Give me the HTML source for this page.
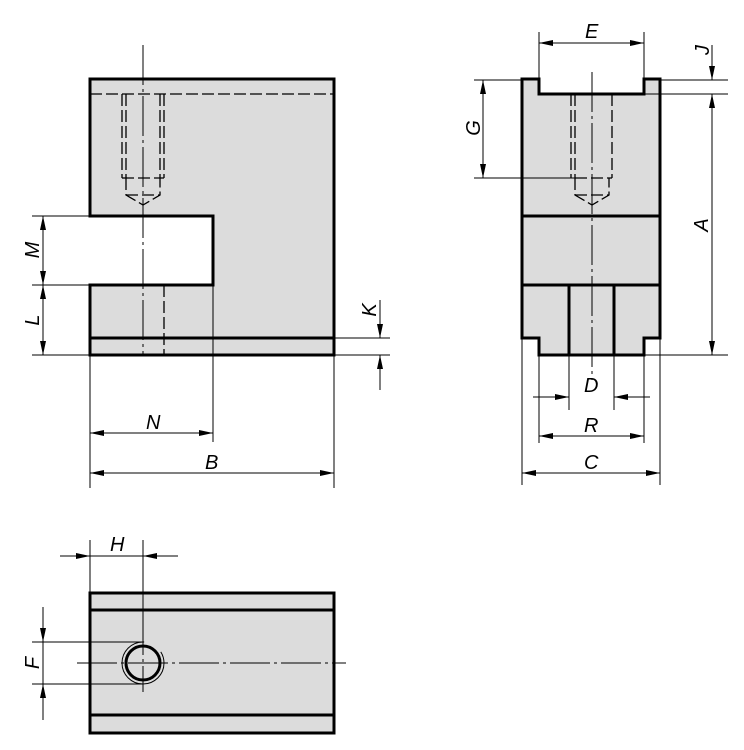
<!DOCTYPE html>
<html><head><meta charset="utf-8"><style>
html,body{margin:0;padding:0;background:#fff;}
svg{display:block;}
text{font-family:"Liberation Sans",sans-serif;font-style:italic;font-size:20px;fill:#000;}
</style></head><body>
<svg width="744" height="750" viewBox="0 0 744 750" xmlns="http://www.w3.org/2000/svg">
<defs>
<marker id="a" viewBox="0 0 14 6" refX="14" refY="3" markerWidth="14" markerHeight="6" orient="auto" markerUnits="userSpaceOnUse"><path d="M0,0 L14,3 L0,6 Z" fill="#000"/></marker>
</defs>
<g fill="#dcdcdc" stroke="none">
<path d="M90,79 H334 V355 H90 V285 H213 V216 H90 Z"/>
<path d="M522,79 H539 V94 H644 V79 H660 V338 H644 V355 H539 V338 H522 Z"/>
<rect x="90" y="593" width="244" height="140"/>
</g>
<g fill="none" stroke="#000" stroke-width="3">
<path d="M90,79 H334 V355 H90 V285 H213 V216 H90 Z"/>
<line x1="90" y1="338" x2="334" y2="338"/>
<path d="M522,79 H539 V94 H644 V79 H660 V338 H644 V355 H539 V338 H522 Z"/>
<line x1="522" y1="216" x2="660" y2="216"/>
<line x1="522" y1="285" x2="660" y2="285"/>
<line x1="569" y1="285" x2="569" y2="355"/>
<line x1="614" y1="285" x2="614" y2="355"/>
<rect x="90" y="593" width="244" height="140"/>
<line x1="90" y1="610" x2="334" y2="610"/>
<line x1="90" y1="715" x2="334" y2="715"/>
<circle cx="143" cy="663" r="17"/>
</g>
<circle cx="143" cy="663" r="21" fill="none" stroke="#000" stroke-width="1" stroke-dasharray="100 20"/>
<!-- hidden lines -->
<g fill="none" stroke="#000" stroke-width="1.3" stroke-dasharray="12 4">
<line x1="90" y1="94" x2="334" y2="94"/>
<line x1="122" y1="94" x2="122" y2="178"/>
<line x1="126" y1="94" x2="126" y2="178"/>
<line x1="160" y1="94" x2="160" y2="178"/>
<line x1="164" y1="94" x2="164" y2="178"/>
<line x1="122" y1="178" x2="164" y2="178"/>
<path d="M126,178 V195 L143,205 L160,195 V178"/>
<line x1="126" y1="195" x2="160" y2="195"/>
<line x1="164" y1="285" x2="164" y2="355"/>
<line x1="571" y1="94" x2="571" y2="178"/>
<line x1="575" y1="94" x2="575" y2="178"/>
<line x1="612" y1="94" x2="612" y2="178"/>
<line x1="575" y1="178" x2="612" y2="178"/>
<path d="M575,178 V195 L592,205 L609,195 V178"/>
<line x1="575" y1="195" x2="609" y2="195"/>
</g>
<!-- center lines -->
<g fill="none" stroke="#000" stroke-width="1" stroke-dasharray="40 4 3 4">
<line x1="143" y1="45" x2="143" y2="355"/>
<line x1="592" y1="72" x2="592" y2="380"/>
<line x1="77" y1="663" x2="346" y2="663"/>
<line x1="143" y1="615" x2="143" y2="692"/>
</g>
<!-- dimension/extension lines -->
<g fill="none" stroke="#000" stroke-width="1">
<line x1="32" y1="216" x2="90" y2="216"/>
<line x1="32" y1="285" x2="90" y2="285"/>
<line x1="32" y1="355" x2="390" y2="355"/>
<line x1="334" y1="338" x2="390" y2="338"/>
<line x1="43" y1="250" x2="43" y2="216" marker-end="url(#a)"/>
<line x1="43" y1="250" x2="43" y2="285" marker-end="url(#a)"/>
<line x1="43" y1="320" x2="43" y2="285" marker-end="url(#a)"/>
<line x1="43" y1="320" x2="43" y2="355" marker-end="url(#a)"/>
<line x1="380" y1="300" x2="380" y2="338" marker-end="url(#a)"/>
<line x1="380" y1="390" x2="380" y2="355" marker-end="url(#a)"/>
<line x1="90" y1="355" x2="90" y2="488"/>
<line x1="334" y1="355" x2="334" y2="488"/>
<line x1="213" y1="285" x2="213" y2="442"/>
<line x1="150" y1="433" x2="90" y2="433" marker-end="url(#a)"/>
<line x1="150" y1="433" x2="213" y2="433" marker-end="url(#a)"/>
<line x1="210" y1="473" x2="90" y2="473" marker-end="url(#a)"/>
<line x1="210" y1="473" x2="334" y2="473" marker-end="url(#a)"/>
<!-- right view -->
<line x1="539" y1="32" x2="539" y2="79"/>
<line x1="644" y1="32" x2="644" y2="79"/>
<line x1="590" y1="43" x2="539" y2="43" marker-end="url(#a)"/>
<line x1="590" y1="43" x2="644" y2="43" marker-end="url(#a)"/>
<line x1="660" y1="80" x2="728" y2="80"/>
<line x1="644" y1="94" x2="728" y2="94"/>
<line x1="644" y1="355" x2="728" y2="355"/>
<line x1="712" y1="45" x2="712" y2="80" marker-end="url(#a)"/>
<line x1="712" y1="220" x2="712" y2="94" marker-end="url(#a)"/>
<line x1="712" y1="220" x2="712" y2="355" marker-end="url(#a)"/>
<line x1="474" y1="80" x2="522" y2="80"/>
<line x1="474" y1="178" x2="575" y2="178"/>
<line x1="483" y1="128" x2="483" y2="80" marker-end="url(#a)"/>
<line x1="483" y1="128" x2="483" y2="178" marker-end="url(#a)"/>
<line x1="569" y1="355" x2="569" y2="410"/>
<line x1="614" y1="355" x2="614" y2="410"/>
<line x1="539" y1="355" x2="539" y2="443"/>
<line x1="644" y1="355" x2="644" y2="443"/>
<line x1="522" y1="338" x2="522" y2="485"/>
<line x1="660" y1="338" x2="660" y2="485"/>
<line x1="533" y1="397" x2="569" y2="397" marker-end="url(#a)"/>
<line x1="650" y1="397" x2="614" y2="397" marker-end="url(#a)"/>
<line x1="590" y1="436" x2="539" y2="436" marker-end="url(#a)"/>
<line x1="590" y1="436" x2="644" y2="436" marker-end="url(#a)"/>
<line x1="590" y1="473" x2="522" y2="473" marker-end="url(#a)"/>
<line x1="590" y1="473" x2="660" y2="473" marker-end="url(#a)"/>
<!-- bottom view -->
<line x1="90" y1="540" x2="90" y2="593"/>
<line x1="143" y1="540" x2="143" y2="615"/>
<line x1="60" y1="556" x2="90" y2="556" marker-end="url(#a)"/>
<line x1="178" y1="556" x2="143" y2="556" marker-end="url(#a)"/>
<line x1="90" y1="556" x2="143" y2="556"/>
<line x1="32" y1="642" x2="143" y2="642"/>
<line x1="32" y1="684" x2="143" y2="684"/>
<line x1="43" y1="607" x2="43" y2="642" marker-end="url(#a)"/>
<line x1="43" y1="720" x2="43" y2="684" marker-end="url(#a)"/>
<line x1="43" y1="642" x2="43" y2="684"/>
</g>
<g>
<text x="146" y="429">N</text>
<text x="205" y="469">B</text>
<text transform="translate(39,250) rotate(-90)" text-anchor="middle">M</text>
<text transform="translate(39,320) rotate(-90)" text-anchor="middle">L</text>
<text transform="translate(376,310) rotate(-90)" text-anchor="middle">K</text>
<text x="585" y="38">E</text>
<text transform="translate(709,50) rotate(-90)" text-anchor="middle">J</text>
<text transform="translate(708,225) rotate(-90)" text-anchor="middle">A</text>
<text transform="translate(480,128) rotate(-90)" text-anchor="middle">G</text>
<text x="584" y="392">D</text>
<text x="584" y="432">R</text>
<text x="584" y="469">C</text>
<text x="110" y="551">H</text>
<text transform="translate(39,663) rotate(-90)" text-anchor="middle">F</text>
</g>
</svg>
</body></html>
